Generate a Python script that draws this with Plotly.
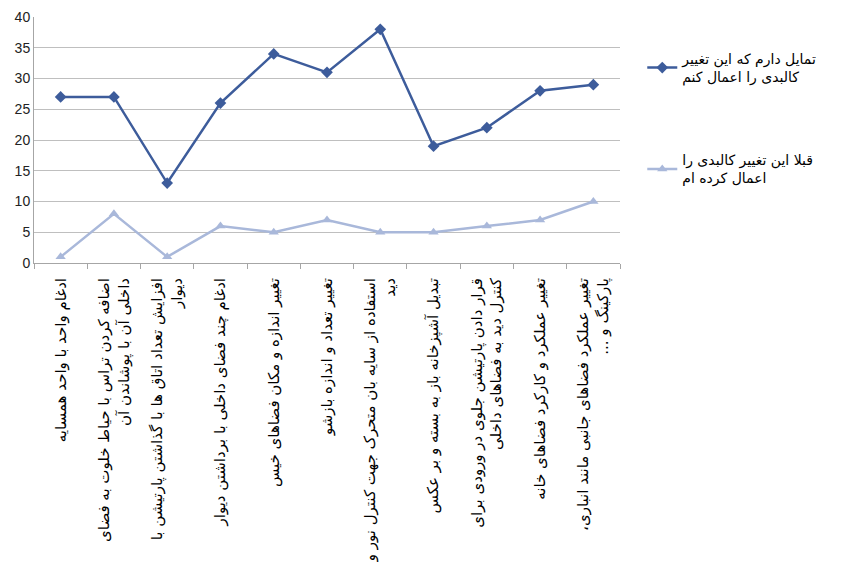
"""Physical change survey chart."""

import plotly.graph_objects as go

RLM = "\u200f"

categories = [
    "ادغام واحد با واحد همسایه",
    "اضافه کردن تراس با حیاط خلوت به فضای<br>داخلی آن با پوشاندن آن",
    "افزایش تعداد اتاق ها با گذاشتن پارتیشن با<br>دیوار",
    "ادغام چند فضای داخلی با برداشتن دیوار",
    "تغییر اندازه و مکان فضاهای خیس",
    "تغییر تعداد و اندازه بازشو",
    "استفاده از سایه بان متحرک جهت کنترل نور و<br>دید",
    "تبدیل آشپزخانه باز به بسته و بر عکس",
    "قرار دادن پارتیشن جلوی در ورودی برای<br>کنترل دید به فضاهای داخلی",
    "تغییر عملکرد و کارکرد فضاهای خانه",
    "تغییر عملکرد فضاهای جانبی مانند انباری،" + RLM + "<br>پارکینگ و ..." + RLM,
]
willing = [27, 27, 13, 26, 34, 31, 38, 19, 22, 28, 29]
already_done = [1, 8, 1, 6, 5, 7, 5, 5, 6, 7, 10]

name_willing = "تمایل دارم که این تغییر<br>کالبدی را اعمال کنم"
name_done = "قبلا این تغییر کالبدی را<br>اعمال کرده ام"

DARK = "#3d5c9b"
LIGHT = "#a9b8da"
FONT = "DejaVu Sans, sans-serif"

fig = go.Figure()

fig.add_trace(go.Scatter(
    x=categories, y=willing, name=name_willing, mode="lines+markers",
    line=dict(color=DARK, width=2.5),
    marker=dict(symbol="diamond", size=9, color=DARK),
    legendgroup="a",
))
fig.add_trace(go.Scatter(
    x=categories, y=already_done, name=name_done, mode="lines+markers",
    line=dict(color=LIGHT, width=2.5),
    marker=dict(symbol="triangle-up", size=9, color=LIGHT),
    legendgroup="b",
))

fig.update_xaxes(
    type="category", range=[-0.5, 10.5],
    tickangle=-90, tickson="boundaries", ticks="outside", ticklen=5,
    tickcolor="#a6a6a6", showline=True, linecolor="#a6a6a6", linewidth=1,
    showgrid=False, automargin=False, ticklabelstandoff=8,
    tickfont=dict(family=FONT, size=15, color="#000000"),
)
fig.update_yaxes(
    range=[0, 40], dtick=5, showgrid=True, gridcolor="#bfbfbf", gridwidth=1,
    showline=True, linecolor="#a6a6a6", zeroline=False,
    ticks="", automargin=False,
    tickfont=dict(family="Liberation Sans, Arial, sans-serif", size=14, color="#222222"),
)

fig.update_layout(
    width=846, height=563,
    paper_bgcolor="white", plot_bgcolor="white",
    margin=dict(l=26, r=234, t=9, b=308),
    showlegend=True,
    legend=dict(
        x=1.038, y=0.895, xanchor="left", yanchor="top",
        font=dict(family=FONT, size=14, color="#000000"),
        tracegroupgap=62, bgcolor="rgba(0,0,0,0)",
    ),
)

fig.write_html("out.html")
